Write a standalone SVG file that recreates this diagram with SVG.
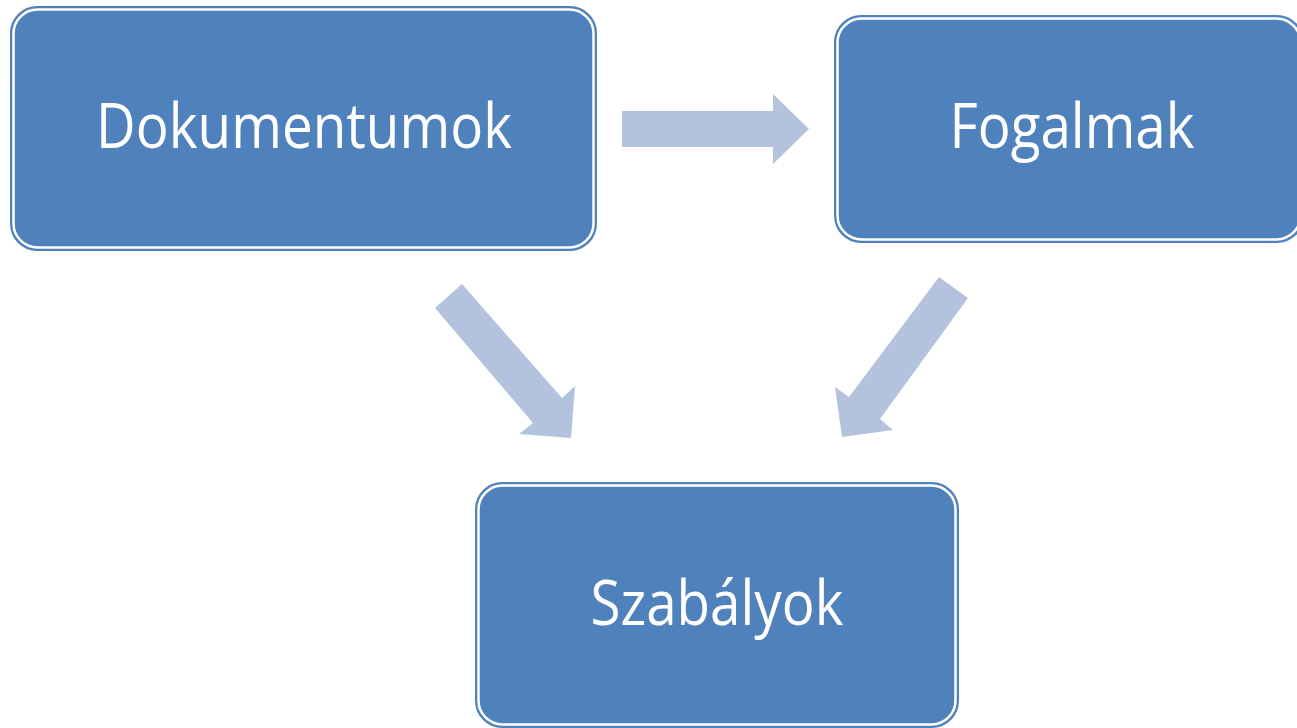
<svg xmlns="http://www.w3.org/2000/svg" width="1297" height="728" viewBox="0 0 1297 728">
<style>
.outer{fill:#4F81BD;stroke:none}
.inner{fill:#4F81BD;stroke:#FFFFFF;stroke-width:2.5}
.lbl{font-family:"Open Sans","Liberation Sans",sans-serif;font-size:62px;fill:#FFFFFF;text-anchor:middle}
.arr{fill:#B3C3DE;stroke:none}
</style>
<rect width="1297" height="728" fill="#FFFFFF"/>
<g id="connectors">
<polygon class="arr" points="622,111 773,111 773,94 809,129 773,164 773,147 622,147"/>
<polygon class="arr" points="462,284 562,398 575,386 571,438 519,434 533,423 435,308"/>
<polygon class="arr" points="939,277 968,298 880,419 893,430 842,437 835,387 849,397"/>
</g>
<g id="node-dokumentumok">
<rect class="outer" x="10" y="6" width="587" height="245" rx="27"/>
<rect class="inner" x="13.5" y="9.5" width="580" height="238" rx="24"/>
<text class="lbl" x="304" y="148" textLength="416" lengthAdjust="spacingAndGlyphs">Dokumentumok</text>
</g>
<g id="node-fogalmak">
<rect class="outer" x="834" y="15" width="470" height="228" rx="27"/>
<rect class="inner" x="837.5" y="18.5" width="463" height="221" rx="24"/>
<text class="lbl" x="1072" y="148" textLength="245" lengthAdjust="spacingAndGlyphs">Fogalmak</text>
</g>
<g id="node-szabalyok">
<rect class="outer" x="475" y="482" width="484" height="246" rx="27"/>
<rect class="inner" x="478.5" y="485.5" width="477" height="239" rx="24"/>
<text class="lbl" x="717" y="625" textLength="253" lengthAdjust="spacingAndGlyphs">Szabályok</text>
</g>
</svg>
